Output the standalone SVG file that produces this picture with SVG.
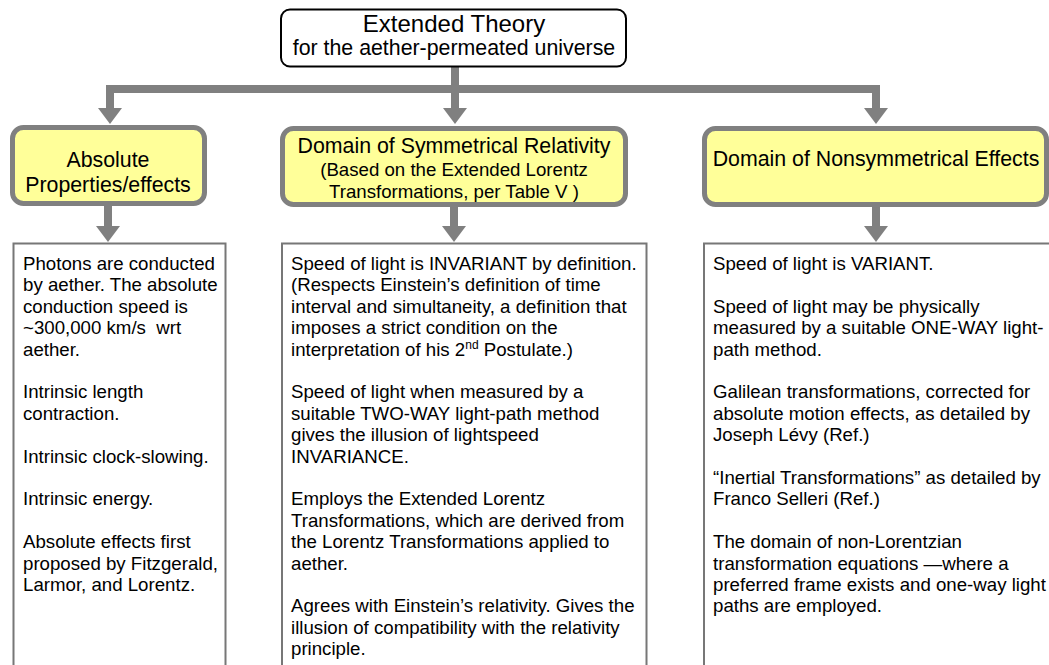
<svg xmlns="http://www.w3.org/2000/svg" width="1049" height="665" viewBox="0 0 1049 665">
<style>
text{font-family:"Liberation Sans",Arial,Helvetica,sans-serif;fill:#000;}
.t24{font-size:24px;text-anchor:middle;}
.t21{font-size:21.33px;text-anchor:middle;}
.t19c{font-size:18.67px;text-anchor:middle;}
.body{font-size:18.67px;white-space:pre;}
.yel{fill:#FFFF99;stroke:#808080;stroke-width:5;}
.txtbox{fill:#fff;stroke:#777;stroke-width:2;}
.top{fill:#fff;stroke:#000;stroke-width:2;}
.conn{fill:none;stroke:#808080;stroke-width:8;stroke-linejoin:miter;marker-end:url(#ah);}
</style>
<defs>
<marker id="ah" markerUnits="userSpaceOnUse" viewBox="0 -12 16 24" refX="0" refY="0" markerWidth="16" markerHeight="24" orient="auto">
<path d="M0,-12 L16,0 L0,12 z" fill="#808080"/>
</marker>
</defs>
<rect width="1049" height="665" fill="#fff"/>

<g id="connectors">
<path class="conn" d="M455,67 V108"/>
<path class="conn" d="M459,89 H110 V108"/>
<path class="conn" d="M451,89 H876 V108"/>
<path class="conn" d="M108,206 V226"/>
<path class="conn" d="M454,207 V226"/>
<path class="conn" d="M876,206 V226"/>
</g>

<g id="extended-theory">
<rect class="top" x="281" y="9.5" width="345" height="57" rx="9"/>
<text class="t24" x="454" y="32">Extended Theory</text>
<text class="t21" x="454" y="55">for the aether-permeated universe</text>
</g>

<g id="absolute">
<rect class="yel" x="12.5" y="127.5" width="192" height="76" rx="11"/>
<text class="t21" x="108" y="167">Absolute</text>
<text class="t21" x="108" y="192">Properties/effects</text>
</g>

<g id="symmetrical">
<rect class="yel" x="282.5" y="128.5" width="343" height="76" rx="11"/>
<text class="t21" x="454" y="153">Domain of Symmetrical Relativity</text>
<text class="t19c" x="454" y="176">(Based on the Extended Lorentz</text>
<text class="t19c" x="454" y="197.5">Transformations, per Table V )</text>
</g>

<g id="nonsymmetrical">
<rect class="yel" x="704.5" y="128.5" width="342" height="76" rx="11"/>
<text class="t21" x="876" y="166">Domain of Nonsymmetrical Effects</text>
</g>

<g id="absolute-text">
<rect class="txtbox" x="13.5" y="243.5" width="212" height="440"/>
<text class="body" x="23" y="270">Photons are conducted</text>
<text class="body" x="23" y="291.4">by aether. The absolute</text>
<text class="body" x="23" y="312.8">conduction speed is</text>
<text class="body" x="23" y="334.2">~300,000 km/s  wrt</text>
<text class="body" x="23" y="355.6">aether.</text>
<text class="body" x="23" y="398.4">Intrinsic length</text>
<text class="body" x="23" y="419.8">contraction.</text>
<text class="body" x="23" y="462.6">Intrinsic clock-slowing.</text>
<text class="body" x="23" y="505.4">Intrinsic energy.</text>
<text class="body" x="23" y="548.2">Absolute effects first</text>
<text class="body" x="23" y="569.6">proposed by Fitzgerald,</text>
<text class="body" x="23" y="591">Larmor, and Lorentz.</text>
</g>

<g id="symmetrical-text">
<rect class="txtbox" x="282" y="243.5" width="364.5" height="440"/>
<text class="body" x="291" y="270">Speed of light is INVARIANT by definition.</text>
<text class="body" x="291" y="291.4">(Respects Einstein’s definition of time</text>
<text class="body" x="291" y="312.8">interval and simultaneity, a definition that</text>
<text class="body" x="291" y="334.2">imposes a strict condition on the</text>
<text class="body" x="291" y="355.6">interpretation of his 2<tspan font-size="12" dy="-7">nd</tspan><tspan dy="7"> Postulate.)</tspan></text>
<text class="body" x="291" y="398.4">Speed of light when measured by a</text>
<text class="body" x="291" y="419.8">suitable TWO-WAY light-path method</text>
<text class="body" x="291" y="441.2">gives the illusion of lightspeed</text>
<text class="body" x="291" y="462.6">INVARIANCE.</text>
<text class="body" x="291" y="505.4">Employs the Extended Lorentz</text>
<text class="body" x="291" y="526.8">Transformations, which are derived from</text>
<text class="body" x="291" y="548.2">the Lorentz Transformations applied to</text>
<text class="body" x="291" y="569.6">aether.</text>
<text class="body" x="291" y="612.4">Agrees with Einstein’s relativity. Gives the</text>
<text class="body" x="291" y="633.8">illusion of compatibility with the relativity</text>
<text class="body" x="291" y="655.2">principle.</text>
</g>

<g id="nonsymmetrical-text">
<rect class="txtbox" x="704" y="243.5" width="360" height="440"/>
<text class="body" x="713" y="270">Speed of light is VARIANT.</text>
<text class="body" x="713" y="312.8">Speed of light may be physically</text>
<text class="body" x="713" y="334.2">measured by a suitable ONE-WAY light-</text>
<text class="body" x="713" y="355.6">path method.</text>
<text class="body" x="713" y="398.4">Galilean transformations, corrected for</text>
<text class="body" x="713" y="419.8">absolute motion effects, as detailed by</text>
<text class="body" x="713" y="441.2">Joseph Lévy (Ref.)</text>
<text class="body" x="713" y="484">“Inertial Transformations” as detailed by</text>
<text class="body" x="713" y="505.4">Franco Selleri (Ref.)</text>
<text class="body" x="713" y="548.2">The domain of non-Lorentzian</text>
<text class="body" x="713" y="569.6">transformation equations —where a</text>
<text class="body" x="713" y="591">preferred frame exists and one-way light</text>
<text class="body" x="713" y="612.4">paths are employed.</text>
</g>
</svg>
